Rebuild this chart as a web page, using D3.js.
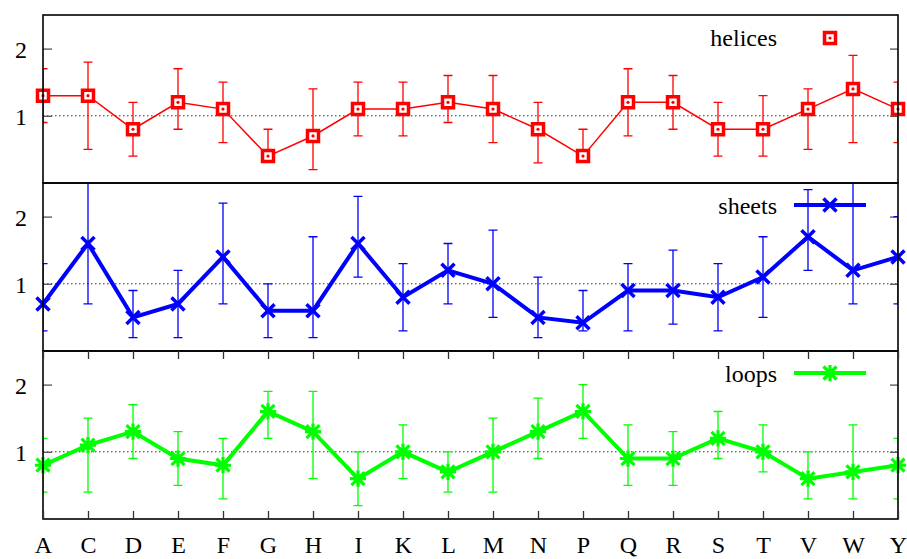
<!DOCTYPE html>
<html>
<head>
<meta charset="utf-8">
<script src="https://cdn.jsdelivr.net/npm/d3@7"></script>
<style>
  body { margin: 0; background: #fff; }
  text { font-family: "Liberation Serif", "DejaVu Serif", serif; font-size: 24px; fill: #000; }
</style>
</head>
<body>
<div id="chart"></div>
<script>
// categories (amino acids)
const residues = ["A","C","D","E","F","G","H","I","K","L","M","N","P","Q","R","S","T","V","W","Y"];

// helices: value, lower and upper end of error bar
const helices   = [1.3,1.3,0.8,1.2,1.1,0.4,0.7,1.1,1.1,1.2,1.1,0.8,0.4,1.2,1.2,0.8,0.8,1.1,1.4,1.1];
const helicesLo = [0.9,0.5,0.4,0.8,0.6,0.4,0.2,0.7,0.7,0.9,0.6,0.3,0.4,0.7,0.8,0.4,0.4,0.5,0.6,0.6];
const helicesHi = [1.7,1.8,1.2,1.7,1.5,0.8,1.4,1.5,1.5,1.6,1.6,1.2,0.8,1.7,1.6,1.2,1.3,1.4,1.9,1.5];

// sheets
const sheets   = [0.7,1.6,0.5,0.7,1.4,0.6,0.6,1.6,0.8,1.2,1.0,0.5,0.42,0.9,0.9,0.8,1.1,1.7,1.2,1.4];
const sheetsLo = [0.3,0.7,0.2,0.2,0.7,0.2,0.2,1.1,0.3,0.7,0.5,0.2,0.3,0.3,0.4,0.3,0.5,1.2,0.7,0.7];
const sheetsHi = [1.3,2.6,0.9,1.2,2.2,1.0,1.7,2.3,1.3,1.6,1.8,1.1,0.9,1.3,1.5,1.3,1.7,2.4,2.7,2.0];

// loops
const loops   = [0.8,1.1,1.3,0.9,0.8,1.6,1.3,0.6,1.0,0.7,1.0,1.3,1.6,0.9,0.9,1.2,1.0,0.6,0.7,0.8];
const loopsLo = [0.4,0.4,0.9,0.5,0.3,1.2,0.6,0.2,0.6,0.4,0.4,0.9,1.2,0.5,0.5,0.9,0.7,0.3,0.3,0.3];
const loopsHi = [1.2,1.5,1.7,1.3,1.2,1.9,1.9,1.0,1.4,1.0,1.5,1.8,2.0,1.4,1.3,1.6,1.4,1.0,1.4,1.2];

const yTicks = [1, 2];
const yDomain = [0, 2.5];

// dimensions
const width = 907, height = 559;
const left = 43, right = 898;
const panelTop = 15, panelH = 168;

const panels = [
  {name: "helices", values: helices, lo: helicesLo, hi: helicesHi, color: "#ff0000", lw: 1.5, marker: "box"},
  {name: "sheets",  values: sheets,  lo: sheetsLo,  hi: sheetsHi,  color: "#0000ff", lw: 4,   marker: "x"},
  {name: "loops",   values: loops,   lo: loopsLo,   hi: loopsHi,   color: "#00ff00", lw: 4,   marker: "star"}
];

const x = d3.scalePoint().domain(residues).range([left, right]);

const svg = d3.select("#chart").append("svg").attr("width", width).attr("height", height);

// marker path generator
function markerPath(type, s) {
  if (type === "x") return `M${-s},${-s}L${s},${s}M${-s},${s}L${s},${-s}`;
  if (type === "star") return `M${-s},${-s}L${s},${s}M${-s},${s}L${s},${-s}M0,${-s * 1.25}L0,${s * 1.25}M${-s * 1.25},0L${s * 1.25},0`;
  return `M${-s},${-s}H${s}V${s}H${-s}Z`;
}

function drawMarker(g, type, color) {
  if (type === "box") {
    g.append("path").attr("d", markerPath("box", 5.5))
      .attr("fill", "#fff").attr("stroke", color).attr("stroke-width", 3.5);
    g.append("circle").attr("r", 1.6).attr("fill", color);
  } else {
    g.append("path").attr("d", markerPath(type, 6.5))
      .attr("fill", "none").attr("stroke", color).attr("stroke-width", type === "x" ? 3.5 : 3.2);
  }
}

panels.forEach((p, i) => {
  const top = panelTop + i * panelH, bottom = top + panelH;
  const y = d3.scaleLinear().domain(yDomain).range([bottom, top]);
  const g = svg.append("g");
  const data = residues.map((r, j) => ({r, v: p.values[j], lo: p.lo[j], hi: p.hi[j]}));

  g.append("clipPath").attr("id", "clip" + i)
    .append("rect").attr("x", left).attr("y", top).attr("width", right - left).attr("height", panelH);

  // reference line at 1
  g.append("line")
    .attr("x1", left).attr("x2", right).attr("y1", y(1)).attr("y2", y(1))
    .attr("stroke", "#333").attr("stroke-width", 1).attr("stroke-dasharray", "1.5,2.5");

  // y axes (inward ticks)
  g.append("g").attr("transform", `translate(${left},0)`)
    .call(d3.axisLeft(y).tickValues(yTicks).tickSize(-9).tickPadding(16).tickFormat(d3.format("d")))
    .call(a => a.select(".domain").remove())
    .call(a => a.selectAll("line").attr("stroke", "#555").attr("stroke-width", 1.3))
    .call(a => a.selectAll("text").attr("font-size", null).attr("font-family", null).attr("dy", "0.35em"));
  g.append("g").attr("transform", `translate(${right},0)`)
    .call(d3.axisRight(y).tickValues(yTicks).tickSize(-8).tickFormat(""))
    .call(a => a.select(".domain").remove())
    .call(a => a.selectAll("line").attr("stroke", "#555").attr("stroke-width", 1.3));

  // error bars
  const eb = g.append("g").attr("clip-path", `url(#clip${i})`)
    .attr("stroke", p.color).attr("stroke-width", 1.3).attr("fill", "none");
  eb.selectAll("path").data(data).join("path")
    .attr("d", d => {
      const cx = x(d.r), y1 = y(d.lo), y2 = y(d.hi);
      return `M${cx},${y1}V${y2}M${cx - 4.5},${y1}H${cx + 4.5}M${cx - 4.5},${y2}H${cx + 4.5}`;
    });

  // connecting line
  g.append("path").datum(data)
    .attr("d", d3.line().x(d => x(d.r)).y(d => y(d.v)))
    .attr("fill", "none").attr("stroke", p.color).attr("stroke-width", p.lw)
    .attr("stroke-linejoin", "miter");

  // markers
  g.selectAll("g.pt").data(data).join("g").attr("class", "pt")
    .attr("transform", d => `translate(${x(d.r)},${y(d.v)})`)
    .each(function() { drawMarker(d3.select(this), p.marker, p.color); });

  // legend
  const ly = top + 22;
  g.append("text").attr("x", 777).attr("y", top + 31).attr("text-anchor", "end").text(p.name);
  if (p.marker !== "box") {
    g.append("line").attr("x1", 794).attr("x2", 866).attr("y1", ly).attr("y2", ly)
      .attr("stroke", p.color).attr("stroke-width", p.lw);
  }
  const lm = g.append("g").attr("transform", `translate(830,${p.marker === "box" ? top + 23 : ly})`);
  drawMarker(lm, p.marker, p.color);

  // frame
  g.append("rect").attr("x", left).attr("y", top).attr("width", right - left).attr("height", panelH)
    .attr("fill", "none").attr("stroke", "#000").attr("stroke-width", 1.6);

  // x axis only on the bottom panel
  if (i === panels.length - 1) {
    g.append("g").attr("transform", `translate(0,${bottom})`)
      .call(d3.axisBottom(x).tickSize(-8).tickPadding(17))
      .call(a => a.select(".domain").remove())
      .call(a => a.selectAll("line").attr("stroke", "#333").attr("stroke-width", 1.3))
      .call(a => a.selectAll("text").attr("font-size", null).attr("font-family", null));
    g.append("g").attr("transform", `translate(0,${top})`)
      .call(d3.axisTop(x).tickSize(-8).tickFormat(""))
      .call(a => a.select(".domain").remove())
      .call(a => a.selectAll("line").attr("stroke", "#333").attr("stroke-width", 1.3));
  }
});
</script>
</body>
</html>
